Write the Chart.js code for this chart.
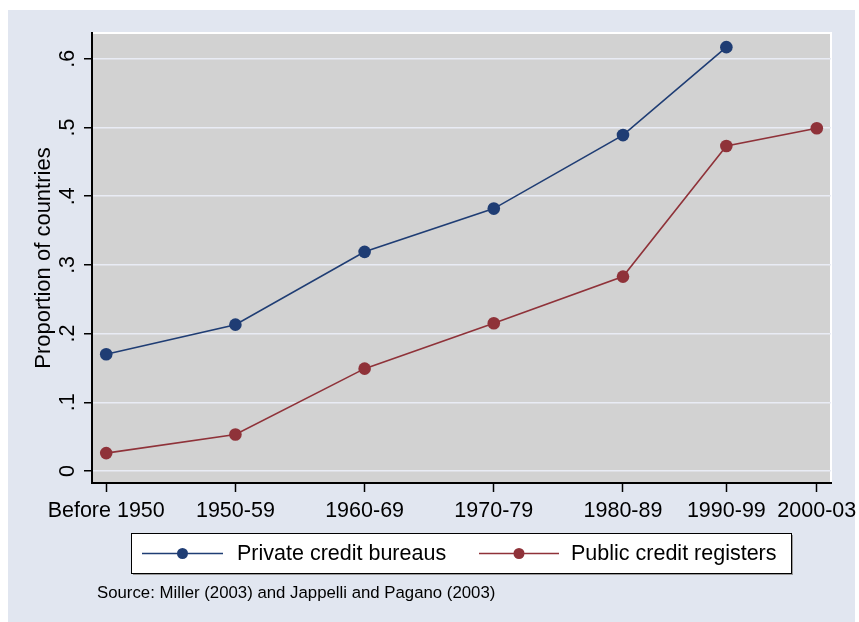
<!DOCTYPE html>
<html>
<head>
<meta charset="utf-8">
<script src="https://cdn.jsdelivr.net/npm/chart.js@4.4.1/dist/chart.umd.min.js"></script>
<style>
  html, body { margin: 0; padding: 0; background: #ffffff; }
  canvas { display: block; }
</style>
</head>
<body>
<canvas id="creditChart" width="859" height="622"></canvas>
<script>
// values
const periods = ['Before 1950', '1950-59', '1960-69', '1970-79', '1980-89', '1990-99', '2000-03'];
const periodPos = [1945, 1955, 1965, 1975, 1985, 1993, 2000];
const privateBureaus = [0.170, 0.213, 0.319, 0.382, 0.489, 0.617, null];
const publicRegisters = [0.026, 0.053, 0.149, 0.215, 0.283, 0.473, 0.499];
const yTicks = [0, 0.1, 0.2, 0.3, 0.4, 0.5, 0.6];
const yTickLabels = ['0', '.1', '.2', '.3', '.4', '.5', '.6'];
const seriesNames = ['Private credit bureaus', 'Public credit registers'];
const sourceNote = 'Source: Miller (2003) and Jappelli and Pagano (2003)';

const NAVY = '#1f3d74';
const MAROON = '#8f3239';
const FONT = '"Liberation Sans", Arial, sans-serif';

function toPoints(vals) {
    const pts = [];
    vals.forEach((v, i) => { if (v !== null) pts.push({ x: periodPos[i], y: v }); });
    return pts;
}

// stata-ish backgrounds, frame, rotated y labels, legend box and note
const stataDecor = {
    id: 'stataDecor',
    beforeDraw(chart) {
        const ctx = chart.ctx;
        const a = chart.chartArea;
        ctx.save();
        ctx.fillStyle = '#e1e6f0';
        ctx.fillRect(8, 10, 847, 612);
        ctx.fillStyle = '#d2d2d2';
        ctx.fillRect(a.left, a.top, a.right - a.left, a.bottom - a.top);
        ctx.strokeStyle = '#ffffff';
        ctx.lineWidth = 2;
        ctx.strokeRect(a.left, a.top, a.right - a.left, a.bottom - a.top);
        ctx.restore();
    },
    afterDraw(chart) {
        const ctx = chart.ctx;
        const ys = chart.scales.y;
        ctx.save();
        ctx.fillStyle = '#000';
        ctx.font = '21.5px ' + FONT;
        ctx.textAlign = 'center';
        ctx.textBaseline = 'alphabetic';
        yTicks.forEach((v, i) => {
            const py = ys.getPixelForValue(v);
            ctx.save();
            ctx.translate(74, py);
            ctx.rotate(-Math.PI / 2);
            ctx.fillText(yTickLabels[i], 0, 0);
            ctx.restore();
        });

        // legend
        const bx = 131.5, by = 533.5, bw = 660, bh = 40;
        ctx.fillStyle = '#9a9a9a';
        ctx.fillRect(bx + 1.5, by + 1.5, bw, bh);
        ctx.fillStyle = '#ffffff';
        ctx.fillRect(bx, by, bw, bh);
        ctx.strokeStyle = '#000';
        ctx.lineWidth = 1;
        ctx.strokeRect(bx, by, bw, bh);

        const cy = by + bh / 2;
        const items = [
            { x0: 142, x1: 223, tx: 237 },
            { x0: 479, x1: 559, tx: 571 }
        ];
        chart.data.datasets.forEach((ds, i) => {
            const it = items[i];
            ctx.strokeStyle = ds.borderColor;
            ctx.lineWidth = 1.5;
            ctx.beginPath();
            ctx.moveTo(it.x0, cy);
            ctx.lineTo(it.x1, cy);
            ctx.stroke();
            ctx.fillStyle = ds.backgroundColor;
            ctx.beginPath();
            ctx.arc((it.x0 + it.x1) / 2, cy, 5.5, 0, Math.PI * 2);
            ctx.fill();
            ctx.fillStyle = '#000';
            ctx.font = '21.5px ' + FONT;
            ctx.textAlign = 'left';
            ctx.textBaseline = 'middle';
            ctx.fillText(ds.label, it.tx, cy + 1);
        });

        ctx.font = '16.8px ' + FONT;
        ctx.textAlign = 'left';
        ctx.textBaseline = 'alphabetic';
        ctx.fillStyle = '#000';
        ctx.fillText(sourceNote, 97, 598);
        ctx.restore();
    }
};

Chart.defaults.font.family = FONT;
Chart.defaults.color = '#000';

const ctx = document.getElementById('creditChart').getContext('2d');

new Chart(ctx, {
    type: 'line',
    data: {
        datasets: [{
            label: seriesNames[0],
            data: toPoints(privateBureaus),
            borderColor: NAVY,
            backgroundColor: NAVY,
            borderWidth: 1.6,
            pointRadius: 6.3,
            pointBorderWidth: 0,
            tension: 0
        }, {
            label: seriesNames[1],
            data: toPoints(publicRegisters),
            borderColor: MAROON,
            backgroundColor: MAROON,
            borderWidth: 1.6,
            pointRadius: 6.3,
            pointBorderWidth: 0,
            tension: 0
        }]
    },
    options: {
        responsive: false,
        animation: false,
        layout: { padding: { left: 8, top: 33, right: 28, bottom: 89 } },
        plugins: {
            legend: { display: false },
            tooltip: { enabled: false }
        },
        scales: {
            x: {
                type: 'linear',
                min: 1943.9,
                max: 2001.1,
                afterBuildTicks(scale) {
                    scale.ticks = periodPos.map(v => ({ value: v }));
                },
                afterFit(scale) {
                    scale.height = 50;
                    scale.paddingLeft = 0;
                    scale.paddingRight = 0;
                },
                grid: {
                    drawOnChartArea: false,
                    drawTicks: true,
                    tickLength: 9,
                    tickColor: '#000',
                    tickWidth: 1.5
                },
                border: { color: '#000', width: 2 },
                ticks: {
                    autoSkip: false,
                    maxRotation: 0,
                    padding: 6,
                    font: { size: 21.5 },
                    callback: (val, idx) => periods[idx]
                }
            },
            y: {
                min: -0.0175,
                max: 0.6376,
                afterBuildTicks(scale) {
                    scale.ticks = yTicks.map(v => ({ value: v }));
                },
                afterFit(scale) {
                    scale.width = 84;
                    scale.paddingTop = 0;
                    scale.paddingBottom = 0;
                },
                grid: {
                    color: '#e9ecf5',
                    lineWidth: 1.5,
                    drawTicks: true,
                    tickLength: 8,
                    tickColor: '#000',
                    tickWidth: 1.5
                },
                border: { color: '#000', width: 2 },
                ticks: { display: false },
                title: {
                    display: true,
                    text: 'Proportion of countries',
                    font: { size: 22 },
                    padding: { top: 22.7, bottom: 0 }
                }
            }
        }
    },
    plugins: [stataDecor]
});
</script>
</body>
</html>
